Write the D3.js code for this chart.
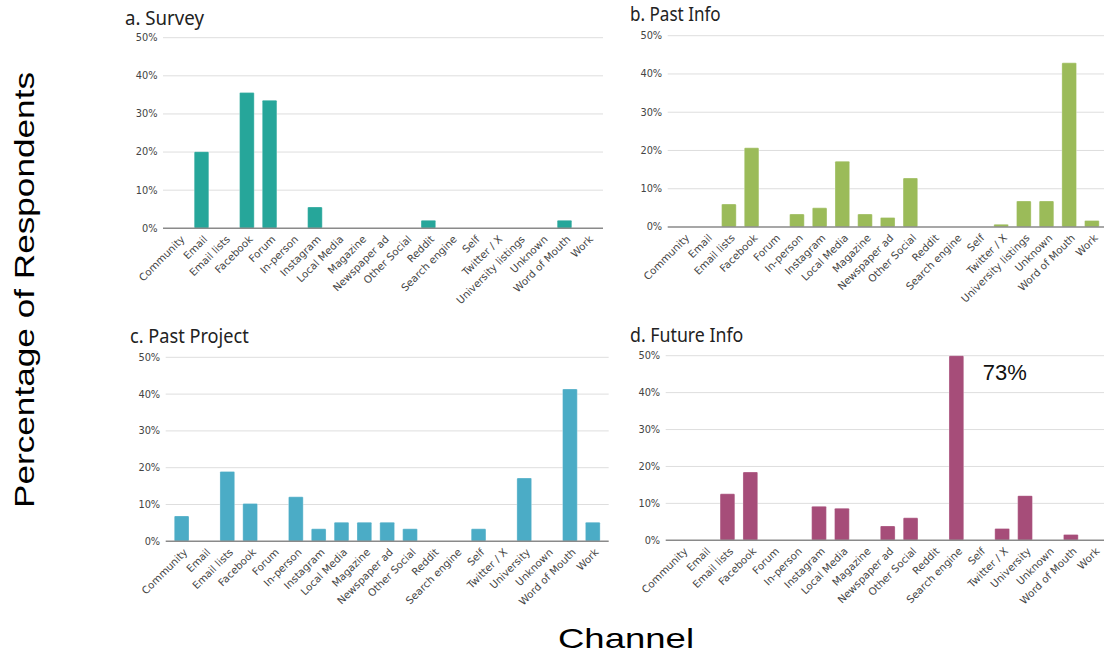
<!DOCTYPE html>
<html>
<head>
<meta charset="utf-8">
<script src="https://cdn.jsdelivr.net/npm/d3@7"></script>
<style>
  html, body { margin: 0; padding: 0; background: #fff; }
  svg { display: block; }
</style>
</head>
<body>
<svg id="chart" width="1104" height="655"></svg>
<script>
// Channels on the x axis (top row and bottom row differ only in one label)
const channelsInfo = ["Community", "Email", "Email lists", "Facebook", "Forum", "In-person", "Instagram",
  "Local Media", "Magazine", "Newspaper ad", "Other Social", "Reddit", "Search engine", "Self",
  "Twitter / X", "University listings", "Unknown", "Word of Mouth", "Work"];
const channelsProject = ["Community", "Email", "Email lists", "Facebook", "Forum", "In-person", "Instagram",
  "Local Media", "Magazine", "Newspaper ad", "Other Social", "Reddit", "Search engine", "Self",
  "Twitter / X", "University", "Unknown", "Word of Mouth", "Work"];

// Percentage of respondents per channel
const surveyValues      = [0, 20.1, 0, 35.6, 33.6, 0, 5.6, 0, 0, 0, 0, 2.1, 0, 0, 0, 0, 0, 2.1, 0];
const pastInfoValues    = [0, 0, 6.0, 20.7, 0, 3.4, 5.0, 17.2, 3.4, 2.5, 12.8, 0, 0, 0, 0.7, 6.8, 6.8, 42.9, 1.7];
const pastProjectValues = [6.9, 0, 19.0, 10.3, 0, 12.1, 3.4, 5.2, 5.2, 5.2, 3.4, 0, 0, 3.4, 0, 17.2, 0, 41.4, 5.2];
const futureInfoValues  = [0, 0, 12.6, 18.5, 0, 0, 9.2, 8.7, 0, 3.9, 6.1, 0, 73, 0, 3.2, 12.1, 0, 1.6, 0];

const panelTitles = ["a. Survey", "b. Past Info", "c. Past Project", "d. Future Info"];
const yTicks = [0, 10, 20, 30, 40, 50];
const yTickLabels = ["0%", "10%", "20%", "30%", "40%", "50%"];
const yMax = 50;

// Panel geometry and colours
const panels = [
  { title: panelTitles[0], cats: channelsInfo, values: surveyValues, color: "#26a69a",
    x0: 163, w: 440, top: 37.7, bottom: 228.3, titleX: 125, titleY: 24.5, titleW: 79 },
  { title: panelTitles[1], cats: channelsInfo, values: pastInfoValues, color: "#9bbb59",
    x0: 667.7, w: 440, top: 35.7, bottom: 227, titleX: 630, titleY: 21, titleW: 90.7 },
  { title: panelTitles[2], cats: channelsProject, values: pastProjectValues, color: "#4bacc6",
    x0: 165.7, w: 443, top: 357.3, bottom: 541.3, titleX: 130, titleY: 343.3, titleW: 118.7 },
  { title: panelTitles[3], cats: channelsProject, values: futureInfoValues, color: "#a64d79",
    x0: 665.7, w: 444, top: 355.7, bottom: 540.3, titleX: 630, titleY: 342, titleW: 113.3 }
];

const svg = d3.select("#chart");

panels.forEach((p, idx) => {
  const g = svg.append("g");
  const x = d3.scaleBand().domain(p.cats).range([p.x0, p.x0 + p.w])
    .paddingInner(0.355).paddingOuter(0.375);
  const y = d3.scaleLinear().domain([0, yMax]).range([p.bottom, p.top]).clamp(true);

  // gridlines
  g.selectAll("line.grid").data(yTicks.filter(t => t > 0)).join("line")
    .attr("class", "grid")
    .attr("x1", p.x0).attr("x2", p.x0 + p.w)
    .attr("y1", d => y(d)).attr("y2", d => y(d))
    .attr("stroke", "#dedede").attr("stroke-width", 1);

  // y tick labels
  g.selectAll("text.ytick").data(yTicks).join("text")
    .attr("class", "ytick")
    .attr("x", p.x0 - 5.5).attr("y", d => y(d))
    .attr("dy", "0.35em")
    .attr("text-anchor", "end")
    .attr("font-family", "DejaVu Sans, Verdana, sans-serif")
    .attr("font-size", 9.8)
    .attr("fill", "#444")
    .text((d, i) => yTickLabels[i]);

  // bars
  const rows = p.cats.map((c, i) => ({ cat: c, v: p.values[i] })).filter(d => d.v > 0);
  g.selectAll("rect.bar").data(rows).join("rect")
    .attr("class", "bar")
    .attr("x", d => x(d.cat))
    .attr("width", x.bandwidth())
    .attr("y", d => y(d.v))
    .attr("height", d => y(0) - y(d.v))
    .attr("rx", 1)
    .attr("fill", p.color)
    .attr("stroke", "#ffffff").attr("stroke-opacity", 0.5).attr("stroke-width", 0.6);

  // zero line
  g.append("line")
    .attr("x1", p.x0).attr("x2", p.x0 + p.w)
    .attr("y1", y(0)).attr("y2", y(0))
    .attr("stroke", "#8a8a8a").attr("stroke-width", 1.6);

  // category labels, rotated
  g.selectAll("text.xlab").data(p.cats).join("text")
    .attr("class", "xlab")
    .attr("transform", d => `translate(${x(d) + x.bandwidth() / 2 + 4},${y(0) + 9}) rotate(-45)`)
    .attr("text-anchor", "end")
    .attr("dy", "0.35em")
    .attr("font-family", "DejaVu Sans, Verdana, sans-serif")
    .attr("font-size", 10.3)
    .attr("fill", "#444")
    .text(d => d);

  // panel title
  g.append("text")
    .attr("x", p.titleX).attr("y", p.titleY)
    .attr("font-family", "Noto Sans, Open Sans, sans-serif")
    .attr("font-size", 20)
    .attr("fill", "#222")
    .attr("textLength", p.titleW).attr("lengthAdjust", "spacingAndGlyphs")
    .text(p.title);

  // value note for the bar that runs past the axis maximum
  if (idx === 3) {
    const cat = "Search engine";
    const v = p.values[p.cats.indexOf(cat)];
    g.append("text")
      .attr("x", x(cat) + x.bandwidth() + 19)
      .attr("y", y(yMax) + 24.5)
      .attr("font-family", "Liberation Sans, Arial, sans-serif")
      .attr("font-size", 22)
      .attr("fill", "#111")
      .text(`${v}%`);
  }
});

// shared axis titles
svg.append("text")
  .attr("transform", "translate(34,290) rotate(-90)")
  .attr("text-anchor", "middle")
  .attr("font-family", "Liberation Sans, Arial, sans-serif")
  .attr("font-size", 28)
  .attr("fill", "#000")
  .attr("textLength", 436).attr("lengthAdjust", "spacingAndGlyphs")
  .text("Percentage of Respondents");

svg.append("text")
  .attr("x", 626).attr("y", 648)
  .attr("text-anchor", "middle")
  .attr("font-family", "Liberation Sans, Arial, sans-serif")
  .attr("font-size", 28)
  .attr("fill", "#000")
  .attr("textLength", 136).attr("lengthAdjust", "spacingAndGlyphs")
  .text("Channel");
</script>
</body>
</html>
